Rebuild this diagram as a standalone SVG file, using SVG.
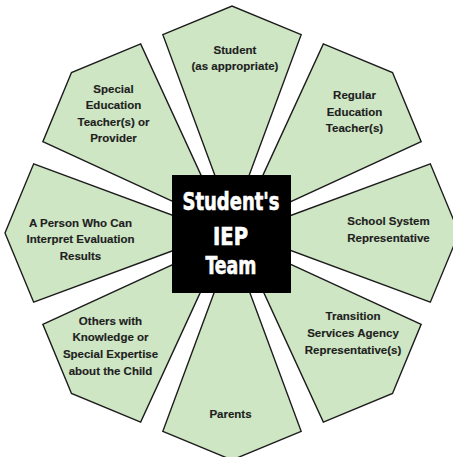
<svg xmlns="http://www.w3.org/2000/svg" width="453" height="457" viewBox="0 0 453 457">
<style>
.wedge{fill:#cee6c4;stroke:#1c1c1c;stroke-width:1.4;stroke-linejoin:miter}
.lbl{font-family:"Liberation Sans",Arial,sans-serif;font-weight:bold;font-size:11.5px;fill:#1e1e1e;stroke:#1e1e1e;stroke-width:0.15;text-anchor:middle}
.hub{font-family:"DejaVu Sans Condensed","DejaVu Sans",sans-serif;font-weight:bold;font-size:24px;fill:#ffffff;stroke:#ffffff;stroke-width:0.6;text-anchor:middle}
</style>
<rect width="453" height="457" fill="#ffffff"/>
<g id="connectors"></g>
<g id="student">
<polygon class="wedge" points="221.77,193.94 162.84,34.67 232,6 301.16,34.67 242.23,193.94"/>
<text class="lbl" x="235" y="53.5">Student</text>
<text class="lbl" x="235" y="70">(as appropriate)</text>
</g>
<g id="regular-education">
<polygon class="wedge" points="252.39,198.14 323.34,43.85 392.51,72.49 421.15,141.66 266.86,212.61"/>
<text class="lbl" x="354.5" y="99.3">Regular</text>
<text class="lbl" x="354.5" y="115.7">Education</text>
<text class="lbl" x="354.5" y="132">Teacher(s)</text>
</g>
<g id="school-system">
<polygon class="wedge" points="271.06,222.77 430.33,163.84 459,233 430.33,302.16 271.06,243.23"/>
<text class="lbl" x="388.5" y="224.5">School System</text>
<text class="lbl" x="388.5" y="241.5">Representative</text>
</g>
<g id="transition">
<polygon class="wedge" points="266.86,253.39 421.15,324.34 392.51,393.51 323.34,422.15 252.39,267.86"/>
<text class="lbl" x="353" y="320">Transition</text>
<text class="lbl" x="353" y="337">Services Agency</text>
<text class="lbl" x="353" y="354">Representative(s)</text>
</g>
<g id="parents">
<polygon class="wedge" points="242.23,272.06 301.16,431.33 232,460 162.84,431.33 221.77,272.06"/>
<text class="lbl" x="230.5" y="418">Parents</text>
</g>
<g id="others">
<polygon class="wedge" points="211.61,267.86 140.66,422.15 71.49,393.51 42.85,324.34 197.14,253.39"/>
<text class="lbl" x="110.5" y="324.5">Others with</text>
<text class="lbl" x="110.5" y="341.3">Knowledge or</text>
<text class="lbl" x="110.5" y="358.1">Special Expertise</text>
<text class="lbl" x="110.5" y="375">about the Child</text>
</g>
<g id="evaluation-person">
<polygon class="wedge" points="192.94,243.23 33.67,302.16 5,233 33.67,163.84 192.94,222.77"/>
<text class="lbl" x="80.5" y="226.7">A Person Who Can</text>
<text class="lbl" x="80.5" y="243.3">Interpret Evaluation</text>
<text class="lbl" x="80.5" y="260">Results</text>
</g>
<g id="special-education">
<polygon class="wedge" points="197.14,212.61 42.85,141.66 71.49,72.49 140.66,43.85 211.61,198.14"/>
<text class="lbl" x="113.5" y="92.7">Special</text>
<text class="lbl" x="113.5" y="109.2">Education</text>
<text class="lbl" x="113.5" y="125.7">Teacher(s) or</text>
<text class="lbl" x="113.5" y="142.2">Provider</text>
</g>
<g id="iep-team">
<rect x="172" y="175" width="119" height="118" fill="#000000"/>
<text class="hub" x="231" y="210" textLength="97" lengthAdjust="spacingAndGlyphs">Student's</text>
<text class="hub" x="230.5" y="245" textLength="35" lengthAdjust="spacingAndGlyphs">IEP</text>
<text class="hub" x="231" y="273.5" textLength="51" lengthAdjust="spacingAndGlyphs">Team</text>
</g>
</svg>
